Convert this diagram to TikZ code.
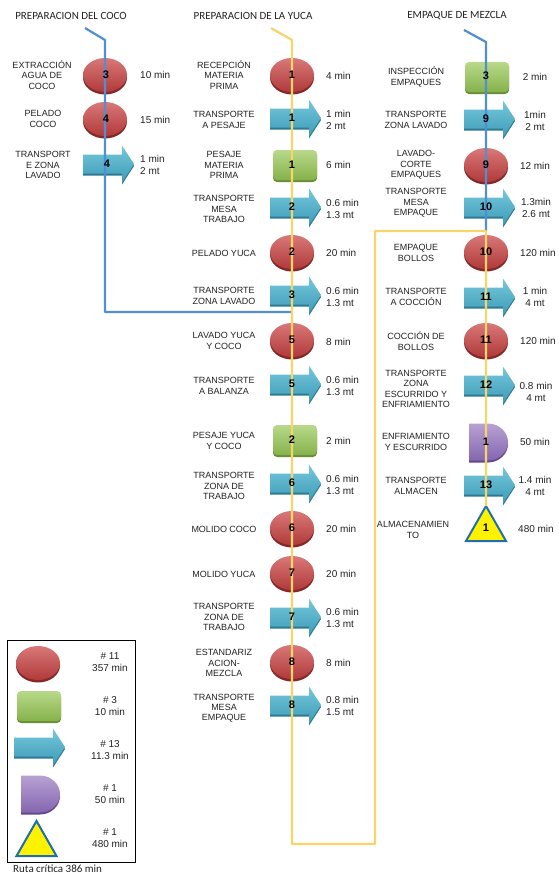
\documentclass[tikz,border=0pt]{standalone}
\usepackage{fontspec}
\setmainfont{Liberation Sans}
\newfontfamily\calib{Carlito}
\definecolor{txtgray}{HTML}{222222}
\definecolor{redtop}{HTML}{D97878}
\definecolor{redbot}{HTML}{B03A3A}
\definecolor{redrim}{HTML}{862828}
\definecolor{greentop}{HTML}{B8D98A}
\definecolor{greenbot}{HTML}{86B24C}
\definecolor{greenrim}{HTML}{688F36}
\definecolor{cyantop}{HTML}{74C8DC}
\definecolor{cyanbot}{HTML}{3F9BB6}
\definecolor{cyanrim}{HTML}{2C7990}
\definecolor{purtop}{HTML}{B8A2D4}
\definecolor{purbot}{HTML}{8466AE}
\definecolor{purrim}{HTML}{634890}
\definecolor{triblue}{HTML}{1F6FB0}
\definecolor{lineblue}{HTML}{4F8FD2}
\definecolor{lineyellow}{HTML}{F8D46A}
\begin{document}
\begin{tikzpicture}[x=1pt,y=-1pt,
  lbl/.style={font=\fontsize{9}{10.3}\selectfont, text=txtgray, align=center, inner sep=0pt},
  tim/.style={font=\fontsize{10}{11.3}\selectfont, text=txtgray, align=left, inner sep=0pt, anchor=west},
  timc/.style={font=\fontsize{10}{11.3}\selectfont, text=txtgray, align=center, inner sep=0pt},
  num/.style={font=\fontsize{11}{12}\selectfont\bfseries, text=black, inner sep=0pt},
  hdr/.style={font=\calib\fontsize{11}{13}\selectfont, text=txtgray, inner sep=0pt},
  bline/.style={draw=lineblue, line width=2.2pt, line join=round},
  yline/.style={draw=lineyellow, line width=2.2pt, line join=round},
  pics/opell/.style={code={
    \fill[redrim] (0,2.5) ellipse (22pt and 17pt);
    \shade[top color=redtop, bottom color=redbot] (0,0) ellipse (22pt and 17pt);
  }},
  pics/oparrow/.style={code={
    \fill[cyanrim] (-22,-7.5) -- (17,-7.5) -- (17,-16.5) -- (29,2) -- (17,20.5) -- (17,11.5) -- (-22,11.5) -- cycle;
    \shade[top color=cyantop, bottom color=cyanbot] (-22,-9.5) -- (17,-9.5) -- (17,-18.5) -- (29,0) -- (17,18.5) -- (17,9.5) -- (-22,9.5) -- cycle;
  }},
  pics/opsq/.style={code={
    \fill[greenrim, rounded corners=4pt] (-21,-13) rectangle (23,17);
    \shade[top color=greentop, bottom color=greenbot, rounded corners=4pt] (-21,-15) rectangle (23,15);
  }},
  pics/opdel/.style={code={
    \fill[purrim] (-17,-16.5) -- (2,-16.5) .. controls (13,-16.5) and (22,-8) .. (22,2) .. controls (22,12) and (13,20.5) .. (2,20.5) -- (-17,20.5) -- cycle;
    \shade[top color=purtop, bottom color=purbot] (-17,-18.5) -- (2,-18.5) .. controls (13,-18.5) and (22,-10) .. (22,0) .. controls (22,10) and (13,18.5) .. (2,18.5) -- (-17,18.5) -- cycle;
  }},
  pics/opstore/.style={code={
    \filldraw[fill=yellow, draw=triblue, line width=2pt, line join=miter] (0,-22) -- (20,13) -- (-20,13) -- cycle;
  }}
]
\useasboundingbox (0,0) rectangle (559,875);

% headers
\node[hdr] (h1) at (71,16) {PREPARACION DEL COCO};
\node[hdr] (h2) at (253,16) {PREPARACION DE LA YUCA};
\node[hdr] (h3) at (457,16) {EMPAQUE DE MEZCLA};

% ---------- left column (coco) ----------
\pic at (105,75) {opell};
\pic at (105,119) {opell};
\pic at (105,164) {oparrow};
\node[lbl] (cl1) at (42,75) {EXTRACCIÓN\\AGUA DE\\COCO};
\node[lbl] (cl2) at (43,119) {PELADO\\COCO};
\node[lbl] (cl3) at (43,165) {TRANSPORT\\E ZONA\\LAVADO};
\node[tim] (ct1) at (140,75) {10 min};
\node[tim] (ct2) at (140,120) {15 min};
\node[tim] (ct3) at (140,165) {1 min\\2 mt};

% ---------- middle column (yuca) ----------
\pic at (292,75) {opell};
\pic at (292,118) {oparrow};
\pic at (294,165) {opsq};
\pic at (292,207) {oparrow};
\pic at (292,252) {opell};
\pic at (292,295) {oparrow};
\pic at (292,340) {opell};
\pic at (292,384) {oparrow};
\pic at (294,440) {opsq};
\pic at (292,483) {oparrow};
\pic at (292,528) {opell};
\pic at (292,573) {opell};
\pic at (292,617) {oparrow};
\pic at (292,662) {opell};
\pic at (292,705) {oparrow};

\node[lbl] (ml1) at (224,75) {RECEPCIÓN\\MATERIA\\PRIMA};
\node[lbl] (ml2) at (224,120) {TRANSPORTE\\A PESAJE};
\node[lbl] (ml3) at (224,165) {PESAJE\\MATERIA\\PRIMA};
\node[lbl] (ml4) at (224,209) {TRANSPORTE\\MESA\\TRABAJO};
\node[lbl] (ml5) at (224,253) {PELADO YUCA};
\node[lbl] (ml6) at (224,296) {TRANSPORTE\\ZONA LAVADO};
\node[lbl] (ml7) at (224,341) {LAVADO YUCA\\Y COCO};
\node[lbl] (ml8) at (224,386) {TRANSPORTE\\A BALANZA};
\node[lbl] (ml9) at (224,441) {PESAJE YUCA\\Y COCO};
\node[lbl] (ml10) at (224,486) {TRANSPORTE\\ZONA DE\\TRABAJO};
\node[lbl] (ml11) at (224,529) {MOLIDO COCO};
\node[lbl] (ml12) at (224,574) {MOLIDO YUCA};
\node[lbl] (ml13) at (224,617) {TRANSPORTE\\ZONA DE\\TRABAJO};
\node[lbl] (ml14) at (224,663) {ESTANDARIZ\\ACION-\\MEZCLA};
\node[lbl] (ml15) at (224,708) {TRANSPORTE\\MESA\\EMPAQUE};

\node[tim] (mt1) at (326,76) {4 min};
\node[tim] (mt2) at (326,120) {1 min\\2 mt};
\node[tim] (mt3) at (326,165) {6 min};
\node[tim] (mt4) at (326,209) {0.6 min\\1.3 mt};
\node[tim] (mt5) at (326,253) {20 min};
\node[tim] (mt6) at (326,297) {0.6 min\\1.3 mt};
\node[tim] (mt7) at (326,342) {8 min};
\node[tim] (mt8) at (326,386) {0.6 min\\1.3 mt};
\node[tim] (mt9) at (326,441) {2 min};
\node[tim] (mt10) at (326,485) {0.6 min\\1.3 mt};
\node[tim] (mt11) at (326,529) {20 min};
\node[tim] (mt12) at (326,574) {20 min};
\node[tim] (mt13) at (326,618) {0.6 min\\1.3 mt};
\node[tim] (mt14) at (326,663) {8 min};
\node[tim] (mt15) at (326,706) {0.8 min\\1.5 mt};

% ---------- right column (empaque) ----------
\pic at (486,77) {opsq};
\pic at (486,119) {oparrow};
\pic at (486,165) {opell};
\pic at (486,207) {oparrow};
\pic at (486,252) {opell};
\pic at (486,297) {oparrow};
\pic at (486,340) {opell};
\pic at (486,385) {oparrow};
\pic at (486,442) {opdel};
\pic at (486,485) {oparrow};
\pic at (486,528) {opstore};

\node[lbl] (rl1) at (416,77) {INSPECCIÓN\\EMPAQUES};
\node[lbl] (rl2) at (416,120) {TRANSPORTE\\ZONA LAVADO};
\node[lbl] (rl3) at (416,165) {LAVADO-\\CORTE\\EMPAQUES};
\node[lbl] (rl4) at (416,203) {TRANSPORTE\\MESA\\EMPAQUE};
\node[lbl] (rl5) at (416,253) {EMPAQUE\\BOLLOS};
\node[lbl] (rl6) at (416,297) {TRANSPORTE\\A COCCIÓN};
\node[lbl] (rl7) at (416,341) {COCCIÓN DE\\BOLLOS};
\node[lbl] (rl8) at (416,389) {TRANSPORTE\\ZONA\\ESCURRIDO Y\\ENFRIAMIENTO};
\node[lbl] (rl9) at (416,442) {ENFRIAMIENTO\\Y ESCURRIDO};
\node[lbl] (rl10) at (416,486) {TRANSPORTE\\ALMACEN};
\node[lbl] (rl11) at (413,530) {ALMACENAMIEN\\TO};

\node[timc] (rt1) at (535,77) {2 min};
\node[timc] (rt2) at (535,121) {1min\\2 mt};
\node[timc] (rt3) at (535,166) {12 min};
\node[timc] (rt4) at (536,208) {1.3min\\2.6 mt};
\node[timc] (rt5) at (538,253) {120 min};
\node[timc] (rt6) at (535,297) {1 min\\4 mt};
\node[timc] (rt7) at (538,341) {120 min};
\node[timc] (rt8) at (536,392) {0.8 min\\4 mt};
\node[timc] (rt9) at (535,442) {50 min};
\node[timc] (rt10) at (535,486) {1.4 min\\4 mt};
\node[timc] (rt11) at (536,529) {480 min};

% ---------- flow lines ----------
\coordinate (b0) at (85,28);
\coordinate (b1) at (105,40);
\coordinate (b2) at (105,312);
\coordinate (b3) at (292,312);
\draw[bline] (b0) -- (b1) -- (b2) -- (b3);

\coordinate (e0) at (464,30);
\coordinate (e1) at (486,42);
\coordinate (e2) at (486,231);
\draw[bline] (e0) -- (e1) -- (e2);

\coordinate (y0) at (271,28);
\coordinate (y1) at (292,40);
\coordinate (y2) at (292,844);
\coordinate (y3) at (375,844);
\coordinate (y4) at (375,231);
\coordinate (y5) at (486,231);
\coordinate (y6) at (486,506);
\draw[yline] (y0) -- (y1) -- (y2) -- (y3) -- (y4) -- (y5) -- (y6);

% ---------- numbers ----------
\node[num] (cn1) at (106,75) {3};
\node[num] (cn2) at (106,119) {4};
\node[num] (cn3) at (107,164) {4};

\node[num] (mn1) at (292,75) {1};
\node[num] (mn2) at (292,118) {1};
\node[num] (mn3) at (292,165) {1};
\node[num] (mn4) at (292,207) {2};
\node[num] (mn5) at (292,252) {2};
\node[num] (mn6) at (292,295) {3};
\node[num] (mn7) at (292,340) {5};
\node[num] (mn8) at (292,384) {5};
\node[num] (mn9) at (292,440) {2};
\node[num] (mn10) at (292,483) {6};
\node[num] (mn11) at (292,528) {6};
\node[num] (mn12) at (292,573) {7};
\node[num] (mn13) at (292,617) {7};
\node[num] (mn14) at (292,662) {8};
\node[num] (mn15) at (292,705) {8};

\node[num] (rn1) at (486,76) {3};
\node[num] (rn2) at (486,119) {9};
\node[num] (rn3) at (486,165) {9};
\node[num] (rn4) at (486,207) {10};
\node[num] (rn5) at (486,252) {10};
\node[num] (rn6) at (486,297) {11};
\node[num] (rn7) at (486,340) {11};
\node[num] (rn8) at (486,385) {12};
\node[num] (rn9) at (486,442) {1};
\node[num] (rn10) at (486,485) {13};
\node[num] (rn11) at (486,528) {1};

% ---------- legend ----------
\node[draw=black, line width=0.8pt, minimum width=128pt, minimum height=222pt, inner sep=0pt] (legend) at (71,751) {};
\pic at (38,663) {opell};
\pic at (38,706) {opsq};
\pic at (36,747) {oparrow};
\pic at (38,794) {opdel};
\pic at (36.5,843) {opstore};
\node[timc] (lg1) at (110,662) {\# 11\\357 min};
\node[timc] (lg2) at (110,706) {\# 3\\10 min};
\node[timc] (lg3) at (110,750) {\# 13\\11.3 min};
\node[timc] (lg4) at (110,794) {\# 1\\50 min};
\node[timc] (lg5) at (110,838) {\# 1\\480 min};
\node[hdr, anchor=west] (ruta) at (13,869) {Ruta crítica 386 min};
\end{tikzpicture}
\end{document}
